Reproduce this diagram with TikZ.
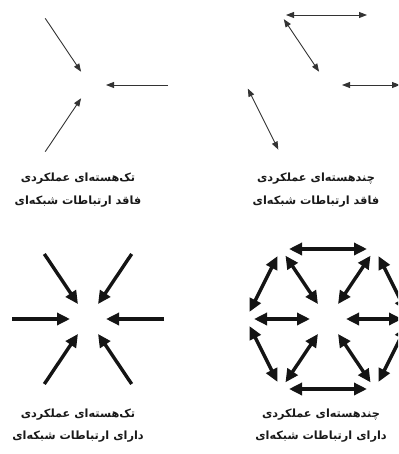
\documentclass[tikz,border=0pt]{standalone}
\usepackage{fontspec}
\newfontfamily\arabicfont[Script=Arabic]{DejaVu Sans}
\TeXXeTstate=1
\usetikzlibrary{arrows.meta}
\newcommand\hexpts[3]{%
  \coordinate (#1c) at (#2,#3);
  \coordinate (#10) at ({#2+82},#3);
  \coordinate (#11) at ({#2+47},{#3-70});
  \coordinate (#12) at ({#2-47},{#3-70});
  \coordinate (#13) at ({#2-82},#3);
  \coordinate (#14) at ({#2-47},{#3+70});
  \coordinate (#15) at ({#2+47},{#3+70});
}
\tikzset{
  thinline/.style={draw=black!80, line width=0.9pt},
  thinhead/.style={thinline, -{Triangle[length=8pt,width=6pt]}},
  thinboth/.style={thinline, {Triangle[length=8pt,width=6pt]}-{Triangle[length=8pt,width=6pt]}},
  thickline/.style={draw=black!92, line width=3.4pt},
  thickhead/.style={thickline, -{Triangle[length=13pt,width=12pt]}},
  thickboth/.style={thickline, {Triangle[length=13pt,width=12pt]}-{Triangle[length=13pt,width=12pt]}},
  caption/.style={font=\arabicfont\bfseries\fontsize{11.3}{13}\selectfont, inner sep=0pt, anchor=center, text=black!90}
}
\begin{document}
\begin{tikzpicture}[x=1pt,y=-1pt]
\useasboundingbox (0,0) rectangle (398,454);
\clip (0,0) rectangle (398,454);
\hexpts{tl}{90}{85}
\hexpts{tr}{328}{85}
\hexpts{bl}{88}{319}
\hexpts{br}{328}{319}
% top-left: single core, no network
\foreach \v in {2,0,4}
  \draw[thinhead, shorten <=4pt, shorten >=16pt] (tl\v) -- (tlc);
% top-right: multi core, no network
\draw[thinboth, shorten <=5pt, shorten >=16pt] (tr2) -- (trc);
\draw[thinboth, shorten <=5pt, shorten >=8pt] (tr2) -- (tr1);
\draw[thinboth, shorten <=4pt, shorten >=6pt] (tr3) -- (tr4);
\draw[thinboth, shorten <=14pt, shorten >=10pt] (trc) -- (tr0);
% bottom-left: single core, network
\foreach \v in {0,...,5}
  \draw[thickhead, shorten <=6pt, shorten >=18pt] (bl\v) -- (blc);
% bottom-right: multi core, network
\foreach \v in {0,...,5}
  \draw[thickboth, shorten <=8pt, shorten >=18pt] (br\v) -- (brc);
\foreach \a/\b in {1/2,2/3,3/4,4/5,5/0,0/1}
  \draw[thickboth, shorten <=8pt, shorten >=8pt] (br\a) -- (br\b);
% captions
\node[caption] (tlt1) at (78,179) {\beginR تک^^^^200cهسته^^^^200cای عملکردی\endR};
\node[caption] (tlt2) at (78,202) {\beginR فاقد ارتباطات شبکه^^^^200cای\endR};
\node[caption] (trt1) at (316,179) {\beginR چندهسته^^^^200cای عملکردی\endR};
\node[caption] (trt2) at (316,202) {\beginR فاقد ارتباطات شبکه^^^^200cای\endR};
\node[caption] (blt1) at (78,415) {\beginR تک^^^^200cهسته^^^^200cای عملکردی\endR};
\node[caption] (blt2) at (78,437) {\beginR دارای ارتباطات شبکه^^^^200cای\endR};
\node[caption] (brt1) at (321,415) {\beginR چندهسته^^^^200cای عملکردی\endR};
\node[caption] (brt2) at (321,437) {\beginR دارای ارتباطات شبکه^^^^200cای\endR};
\end{tikzpicture}
\end{document}
